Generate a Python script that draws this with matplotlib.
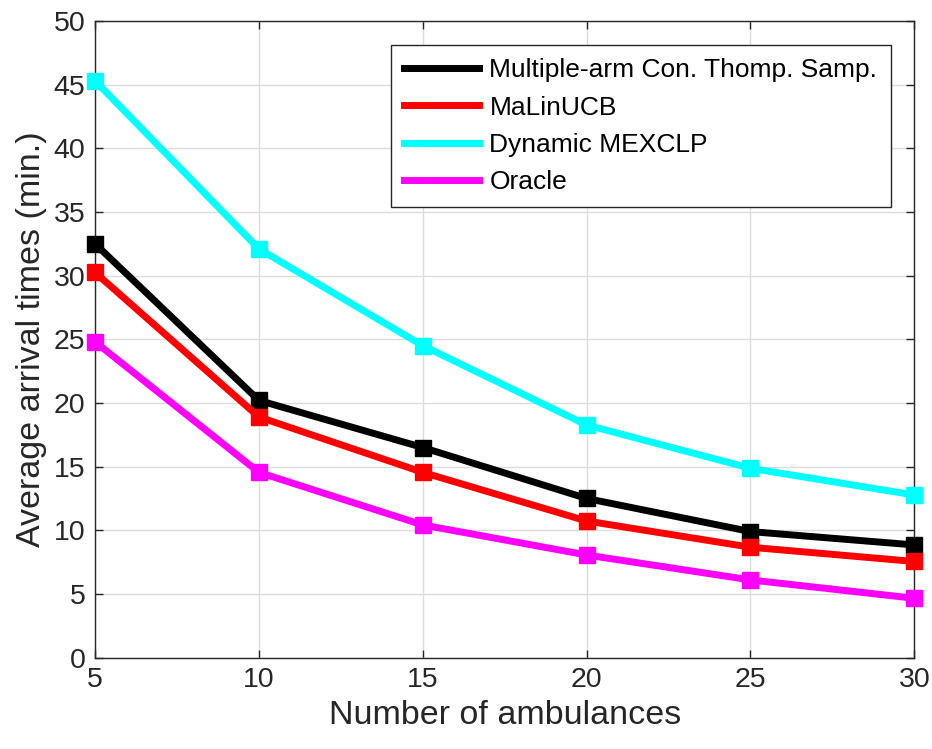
import matplotlib
matplotlib.use("Agg")
import matplotlib.pyplot as plt

plt.rcParams['font.family'] = ['Liberation Sans', 'DejaVu Sans']

ambulances = [5, 10, 15, 20, 25, 30]
thompson = [32.5, 20.2, 16.5, 12.5, 9.9, 8.85]
malinucb = [30.25, 18.9, 14.55, 10.73, 8.67, 7.55]
mexclp = [45.3, 32.1, 24.5, 18.27, 14.87, 12.77]
oracle = [24.8, 14.55, 10.42, 8.06, 6.1, 4.66]

labels = ["Multiple-arm Con. Thomp. Samp.", "MaLinUCB", "Dynamic MEXCLP", "Oracle"]
series = [thompson, malinucb, mexclp, oracle]
colors = ["#000000", "#ff0000", "#00ffff", "#ff00ff"]

fig = plt.figure(figsize=(9.32, 7.49), dpi=100)
ax = fig.add_axes([0.102, 0.122, 0.879, 0.850])

for vals, lab, c in zip(series, labels, colors):
    ax.plot(ambulances, vals, color=c, lw=5, marker='s', markersize=12,
            markerfacecolor=c, markeredgecolor=c, label=lab, clip_on=False, zorder=3)

ax.set_xlim(5, 30)
ax.set_ylim(0, 50)
ax.set_xticks(ambulances)
ax.set_yticks(range(0, 51, 5))
ax.grid(True, color='#dcdcdc', lw=1)
ax.set_axisbelow(True)
ax.tick_params(direction='in', length=6, width=1, labelsize=20.5, colors='#262626',
               top=True, right=True, pad=7)
for s in ax.spines.values():
    s.set_color('#262626')
    s.set_linewidth(1)
ax.set_xlabel("Number of ambulances", fontsize=24.5, color='#262626', labelpad=5)
ax.set_ylabel("Average arrival times (min.)", fontsize=24.5, color='#262626', labelpad=5)

leg = ax.legend(loc='upper right', bbox_to_anchor=(0.971, 0.962), fontsize=19,
                handlelength=2.85, handletextpad=0.4, borderpad=0.5, labelspacing=0.5,
                borderaxespad=0, fancybox=False, framealpha=1, edgecolor='#262626')
leg.get_frame().set_linewidth(1)
for h in leg.legend_handles:
    h.set_marker('')

fig.savefig("out.png", dpi=100)
